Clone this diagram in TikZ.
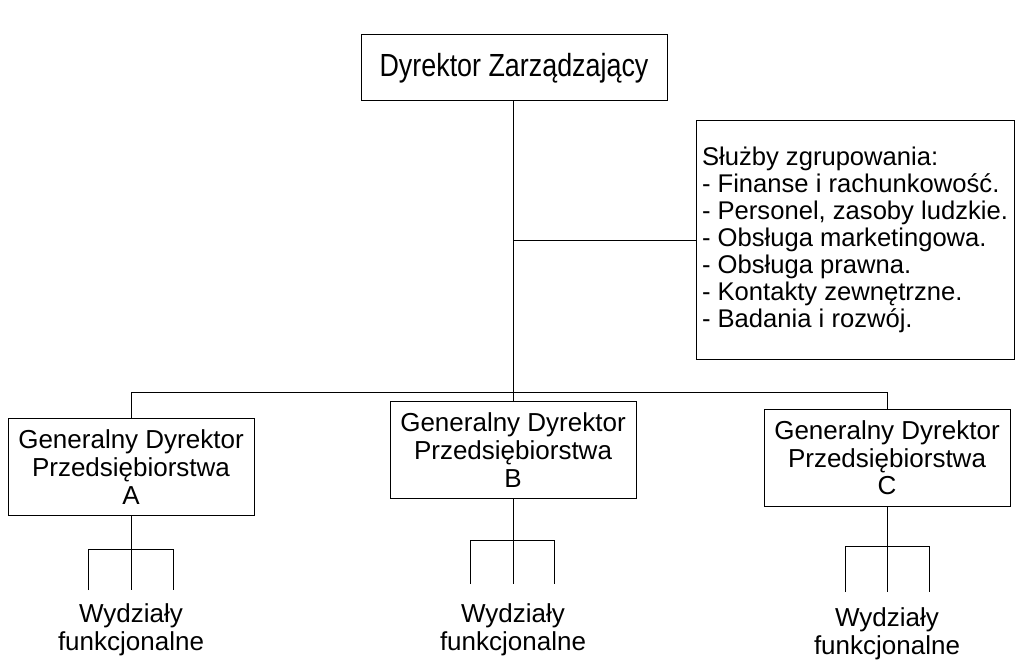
\documentclass[tikz,border=0pt]{standalone}
\usepackage{fontspec}
\setmainfont{Liberation Sans}
\usetikzlibrary{positioning}

\begin{document}
\begin{tikzpicture}[x=0.5pt, y=-0.5pt, line width=0.5pt,
    box/.style={draw, inner sep=0pt, align=center},
    gd/.style={box, minimum width=123pt, minimum height=48.5pt, font=\fontsize{13}{13.8}\selectfont},
    wf/.style={align=center, font=\fontsize{13}{13.8}\selectfont}]
    \useasboundingbox (0,0) rectangle (1016,663);
    % top
    \node[box, minimum width=153pt, minimum height=33pt,
          font=\fontsize{16}{18}\selectfont\addfontfeatures{FakeStretch=0.84}] (dz) at (514,68) {Dyrektor Zarządzający};
    \node[draw, inner sep=0pt, minimum width=159pt, minimum height=119pt, align=left,
          font=\fontsize{12.8}{13.5}\selectfont] (sz) at (855,240)
          {Służby zgrupowania:\\- Finanse i rachunkowość.\\- Personel, zasoby ludzkie.\\- Obsługa marketingowa.\\- Obsługa prawna.\\- Kontakty zewnętrzne.\\- Badania i rozwój.};
    % three companies
    \node[gd] (gda) at (131,467) {Generalny Dyrektor\\Przedsiębiorstwa\\A};
    \node[gd] (gdb) at (513,450) {Generalny Dyrektor\\Przedsiębiorstwa\\B};
    \node[gd] (gdc) at (887,458) {Generalny Dyrektor\\Przedsiębiorstwa\\C};
    \coordinate (busa) at (131,392);
    \coordinate (busc) at (887,392);
    \draw (dz.south -| gdb.north) -- (gdb.north);
    \draw (dz.south -| gdb.north) |- (sz.west);
    \draw (gda.north) -- (busa) -- (busc) -- (gdc.north);
    % A
    \coordinate (jal) at (88,549);
    \coordinate (jar) at (173,549);
    \coordinate (la) at (88,590);
    \coordinate (ma) at (131,590);
    \coordinate (ra) at (173,590);
    \node[wf] (wfa) at (131,630) {Wydziały\\funkcjonalne};
    \draw (gda.south) -- (ma);
    \draw (la) -- (jal) -- (jar) -- (ra);
    % B
    \coordinate (jbl) at (470,540);
    \coordinate (jbr) at (554,540);
    \coordinate (lb) at (470,584);
    \coordinate (mb) at (513,584);
    \coordinate (rb) at (554,584);
    \node[wf] (wfb) at (513,630) {Wydziały\\funkcjonalne};
    \draw (gdb.south) -- (mb);
    \draw (lb) -- (jbl) -- (jbr) -- (rb);
    % C
    \coordinate (jcl) at (845,546);
    \coordinate (jcr) at (929,546);
    \coordinate (lc) at (845,592);
    \coordinate (mc) at (887,592);
    \coordinate (rc) at (929,592);
    \node[wf] (wfc) at (887,634) {Wydziały\\funkcjonalne};
    \draw (gdc.south) -- (mc);
    \draw (lc) -- (jcl) -- (jcr) -- (rc);
\end{tikzpicture}
\end{document}
